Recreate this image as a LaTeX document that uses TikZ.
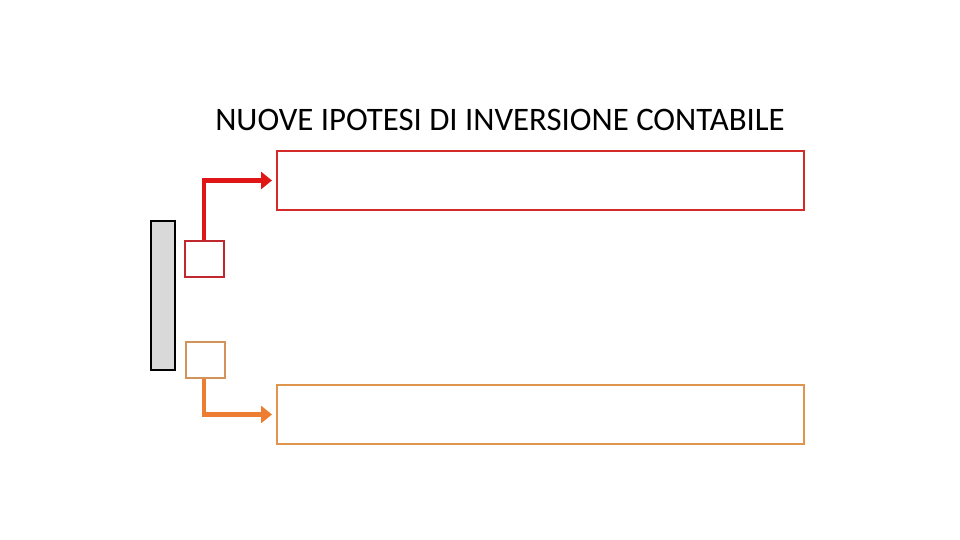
\documentclass[tikz,border=0pt]{standalone}
\usepackage{fontspec}
\setmainfont{Carlito}
\usetikzlibrary{arrows.meta}
\definecolor{barfill}{HTML}{D9D9D9}
\definecolor{redbox}{HTML}{D42A2A}
\definecolor{redsmall}{HTML}{C0282D}
\definecolor{redarrow}{HTML}{E01515}
\definecolor{orbox}{HTML}{E0954F}
\definecolor{orsmall}{HTML}{D4935A}
\definecolor{orarrow}{HTML}{ED7D31}
\begin{document}
\begin{tikzpicture}[x=1pt,y=-1pt,
  bigbox/.style={draw,line width=2pt,minimum width=527pt,minimum height=59pt,inner sep=0pt},
  smallbox/.style={draw,line width=2pt,minimum width=39pt,minimum height=36pt,inner sep=0pt},
  conn/.style={line width=4.5pt,-{Triangle[length=11pt,width=17pt]},shorten >=4pt}]
\useasboundingbox[fill=white] (0,0) rectangle (960,540);
\node[draw=black,fill=barfill,line width=2.2pt,minimum width=24pt,minimum height=149pt,inner sep=0pt] (bar) at (163,295.5) {};
\node[smallbox,draw=redsmall] (rs) at (204,259) {};
\node[smallbox,draw=orsmall] (os) at (205,360) {};
\node[bigbox,draw=redbox] (rb) at (540.5,180.5) {};
\node[bigbox,draw=orbox] (ob) at (540.5,414.5) {};
\node[font=\fontsize{32.8}{38}\selectfont] (title) at (500,120) {NUOVE IPOTESI DI INVERSIONE CONTABILE};
\draw[conn,redarrow] (rs.north) |- (rb.west);
\draw[conn,orarrow] ([xshift=-1pt]os.south) |- (ob.west);
\end{tikzpicture}
\end{document}
